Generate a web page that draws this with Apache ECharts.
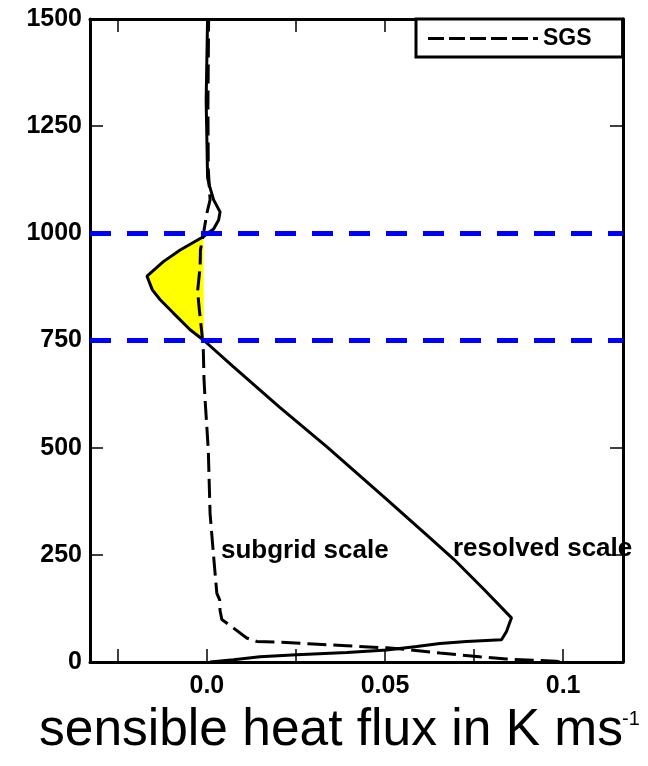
<!DOCTYPE html>
<html>
<head>
<meta charset="utf-8">
<script src="https://cdn.jsdelivr.net/npm/echarts@6/dist/echarts.min.js"></script>
<style>
  html, body { margin: 0; padding: 0; background: #fff; }
  #chart { width: 648px; height: 766px; }
</style>
</head>
<body>
<div id="chart"></div>
<script>
// resolved scale flux (solid) bottom to top
var resolvedX = [0.0009, 0.0014, 0.0075, 0.0149, 0.0252, 0.0393, 0.0505, 0.0589, 0.0654, 0.0729, 0.0827, 0.0841, 0.0855,
  0.0778, 0.0694, 0.0623, 0.0500, 0.0337, 0.0203, 0.0074, -0.0008, -0.0047, -0.0094, -0.0131, -0.0153,
  -0.0168, -0.0122, -0.0075, -0.0010, 0.0005, 0.0019, 0.0033, 0.0037, 0.0019, 0.0007, 0.0002, -0.0002, 0.0002];
var resolvedY = [0, 3, 5, 12, 17, 22, 28, 36, 43, 48, 52, 71, 103,
  169, 239, 292, 383, 502, 595, 689, 750, 775, 814, 845, 868,
  900, 934, 961, 992, 1002, 1010, 1031, 1050, 1078, 1112, 1130, 1310, 1500];

// subgrid scale flux (dashed)
var sgsX = [0.0990, 0.0981, 0.0916, 0.0841, 0.0766, 0.0654, 0.0561, 0.0505, 0.0393, 0.0299, 0.0206, 0.0140, 0.0112,
  0.0075, 0.0042, 0.0037, 0.0036, 0.0028, 0.0019, 0.0009, 0.0004, -0.0005, -0.0008, -0.0010, -0.0014, -0.0021,
  -0.0026, -0.0019, -0.0018, -0.0008, 0.0000, 0.0009, 0.0004, 0.0003, 0.0005];
var sgsY = [0, 2, 4, 7, 12, 21, 29, 33, 38, 42, 46, 48, 56,
  79, 99, 120, 145, 160, 246, 347, 495, 612, 660, 728, 767, 821,
  865, 922, 961, 1007, 1047, 1078, 1150, 1300, 1500];

var layerLines = [750, 1000];
var xTicks = [-0.025, 0, 0.025, 0.05, 0.075, 0.1];
var xLabelValues = [0, 0.05, 0.1];
var xLabels = ['0.0', '0.05', '0.1'];

function pairs(xs, ys) {
  return xs.map(function (x, i) { return [x, ys[i]]; });
}

var fillPts = pairs(resolvedX, resolvedY).filter(function (p) {
  return p[1] >= layerLines[0] && p[1] <= layerLines[1];
});

var font = 'Liberation Sans, Arial, Helvetica, sans-serif';

var myChart = echarts.init(document.getElementById('chart'));

var frameAxisX = {
  type: 'value',
  min: -0.0328,
  max: 0.1168,
  splitLine: { show: false },
  axisLine: { onZero: false, lineStyle: { color: '#000', width: 3 } },
  axisTick: { inside: true, length: 13, customValues: xTicks, lineStyle: { color: '#000', width: 1.5 } }
};
var frameAxisY = {
  type: 'value',
  min: 0,
  max: 1500,
  interval: 250,
  splitLine: { show: false },
  axisLine: { onZero: false, lineStyle: { color: '#000', width: 3 } },
  axisTick: { inside: true, length: 13, lineStyle: { color: '#000', width: 1.5 } }
};

var option = {
  animation: false,
  backgroundColor: '#fff',
  grid: { left: 90, right: 25, top: 19, bottom: 104 },
  legend: {
    data: ['SGS'],
    left: 416,
    top: 19,
    orient: 'horizontal',
    icon: 'path://M0,0h16v3h-16z M21,0h16v3h-16z M42,0h16v3h-16z M63,0h16v3h-16z M84,0h16v3h-16z M105,0h5v3h-5z',
    itemWidth: 110,
    itemHeight: 3,
    itemStyle: { color: '#000', borderWidth: 0 },
    padding: [8, 31, 7, 12],
    borderColor: '#000',
    borderWidth: 3,
    backgroundColor: '#fff',
    textStyle: { fontFamily: font, fontWeight: 'bold', fontSize: 23, color: '#000' }
  },
  xAxis: [
    Object.assign({}, frameAxisX, {
      position: 'bottom',
      axisLabel: {
        customValues: xLabelValues,
        margin: 12,
        color: '#000',
        fontFamily: font,
        fontWeight: 'bold',
        fontSize: 25,
        formatter: function (v) {
          var i = xLabelValues.indexOf(v);
          return i >= 0 ? xLabels[i] : '';
        }
      }
    }),
    Object.assign({}, frameAxisX, { position: 'top', axisLabel: { show: false } })
  ],
  yAxis: [
    Object.assign({}, frameAxisY, {
      position: 'left',
      axisLabel: {
        margin: 8, color: '#000', fontFamily: font, fontWeight: 'bold', fontSize: 25,
        formatter: function (v) { return String(v); }
      }
    }),
    Object.assign({}, frameAxisY, { position: 'right', axisLabel: { show: false } })
  ],
  series: [
    {
      name: 'fill',
      type: 'custom',
      xAxisIndex: 0,
      yAxisIndex: 0,
      z: 1,
      data: [[0, 0]],
      renderItem: function (params, api) {
        var pts = fillPts.map(function (p) { return api.coord(p); });
        return { type: 'polygon', shape: { points: pts }, style: { fill: '#ffff00' } };
      }
    },
    {
      name: 'resolved',
      type: 'line',
      z: 3,
      showSymbol: false,
      symbol: 'none',
      color: '#000',
      lineStyle: { color: '#000', width: 3 },
      data: pairs(resolvedX, resolvedY),
      markLine: {
        silent: true,
        symbol: 'none',
        label: { show: false },
        lineStyle: { color: '#0000ff', width: 5, type: [21, 16] },
        data: layerLines.map(function (v) { return { yAxis: v }; })
      }
    },
    {
      name: 'SGS',
      type: 'line',
      z: 3,
      showSymbol: false,
      symbol: 'none',
      color: '#000',
      lineStyle: { color: '#000', width: 3, type: [19, 7] },
      data: pairs(sgsX, sgsY)
    }
  ],
  graphic: [
    {
      type: 'text', left: 221, top: 538, z: 10,
      style: { text: 'subgrid scale', fontFamily: font, fontWeight: 'bold', fontSize: 26, fill: '#000' }
    },
    {
      type: 'text', left: 453, top: 536, z: 10,
      style: { text: 'resolved scale', fontFamily: font, fontWeight: 'bold', fontSize: 26, fill: '#000' }
    },
    {
      type: 'text', left: 39, top: 705, z: 10,
      style: { text: 'sensible heat flux in K ms', fontFamily: font, fontSize: 51.5, fill: '#000' }
    },
    {
      type: 'text', left: 622, top: 709, z: 10,
      style: { text: '-1', fontFamily: font, fontSize: 20, fill: '#000' }
    }
  ]
};

myChart.setOption(option);
</script>
</body>
</html>
